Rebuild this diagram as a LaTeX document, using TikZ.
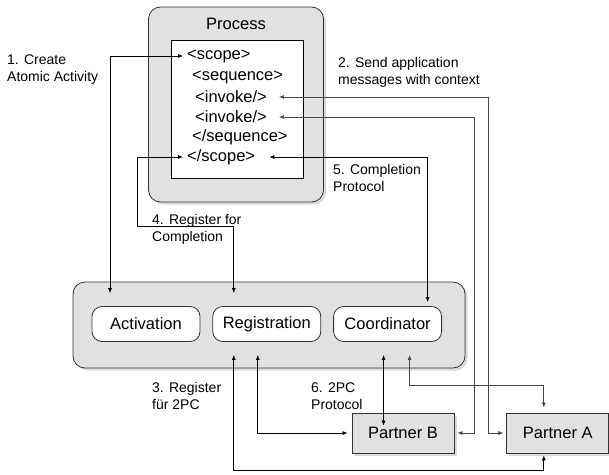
\documentclass[tikz,border=0pt]{standalone}
\usepackage{fontspec}
\setmainfont{Liberation Sans}
\usepackage{xcolor}
\usepackage{tikz}
\usetikzlibrary{arrows.meta,positioning,shadows}

\definecolor{boxgray}{HTML}{E1E1E1}
\definecolor{rimgray}{HTML}{333333}
\definecolor{wiregray}{HTML}{484848}
\newcommand\nodefont{\fontsize{16.5}{19.5}\selectfont}
\newcommand\lblfont{\fontsize{14}{17}\selectfont}

\begin{document}
\begin{tikzpicture}[x=1pt,y=-1pt,
  node distance=12pt and 12pt,
  shade/.style={drop shadow={shadow xshift=2.5pt,shadow yshift=-2.5pt,opacity=.3}},
  panel/.style={draw=rimgray,line width=.8pt,rounded corners=12pt,fill=boxgray,shade},
  svc/.style={draw=rimgray,line width=.8pt,rounded corners=10pt,fill=white,font=\nodefont,minimum width=108pt,minimum height=35pt},
  partner/.style={draw=rimgray,line width=.8pt,fill=boxgray,font=\nodefont,minimum width=102pt,minimum height=40pt,shade},
  codeline/.style={anchor=west,font=\nodefont,inner xsep=4pt,inner ysep=0pt},
  lbl/.style={anchor=west,align=left,font=\lblfont,inner sep=0pt},
  wire/.style={<->,line width=.7pt},
  >={Latex[length=5pt,width=4pt]}]
\useasboundingbox (0,0) rectangle (609,474);

% process
\node[panel,minimum width=175pt,minimum height=195pt] (process) at (236,104.5) {};
\node[font=\nodefont] (proclabel) at (236,24) {Process};
\node[draw,line width=.8pt,fill=white,minimum width=132pt,minimum height=138pt] (code) at (237,109) {};
\node[codeline] (scopeopen) at (183,56) {<scope>};
\node[codeline] (seqopen) at (188,77) {<sequence>};
\node[codeline] (invokeA) at (191,97) {<invoke/>};
\node[codeline] (invokeB) at (191,117) {<invoke/>};
\node[codeline] (seqclose) at (188,137) {</sequence>};
\node[codeline] (scopeclose) at (183,157) {</scope>};

% coordination service
\node[panel,minimum width=392pt,minimum height=86pt] (service) at (269,325) {};
\node[svc] (activation) at (146,324) {Activation};
\node[svc,right=of activation] (registration) {Registration};
\node[svc,right=of registration] (coordinator) {Coordinator};

% partners
\node[partner] (partnerB) at (403,433) {Partner B};
\node[partner,right=52pt of partnerB] (partnerA) {Partner A};

% labels
\node[lbl] (l1) at (7,70) {1. Create\\Atomic Activity};
\node[lbl] (l2) at (338,72) {2. Send application\\messages with context};
\node[lbl] (l3) at (152,396) {3. Register\\für 2PC};
\node[lbl] (l4) at (152,229) {4. Register for\\Completion};
\node[lbl] (l5) at (333,178) {5. Completion\\Protocol};
\node[lbl] (l6) at (311,396) {6. 2PC\\Protocol};

\coordinate (regbend) at (137,226);

% connectors
\draw[wire] (scopeopen.west) -| ([xshift=-36pt,yshift=13pt]activation.north);
\draw[wire] (scopeclose.west) -| (regbend) -| ([xshift=-33pt,yshift=13pt]registration.north);
\draw[wire] ([xshift=10pt]scopeclose.east) -| ([xshift=40pt,yshift=4pt]coordinator.north);
\draw[wire,wiregray] ([xshift=8pt]invokeA.east) -| ([xshift=-18pt]partnerA.west) -- ([xshift=-3pt]partnerA.west);
\draw[wire,wiregray] ([xshift=8pt]invokeB.east) -| ([xshift=20pt]partnerB.east) -- ([xshift=3pt]partnerB.east);
\draw[wire] ([xshift=-9pt,yshift=-13pt]registration.south) |- ([xshift=-4pt]partnerB.west);
\draw[wire] ([xshift=-33pt,yshift=-13pt]registration.south) |- ([xshift=-14pt,yshift=-17pt]partnerA.south) -- ([xshift=-14pt,yshift=-2pt]partnerA.south);
\draw[wire] ([xshift=-4pt,yshift=-13pt]coordinator.south) -- ([xshift=-4pt,yshift=-13pt]coordinator.south |- partnerB.north);
\draw[wire,wiregray] ([xshift=22pt,yshift=-13pt]coordinator.south) |- ([xshift=-14pt,yshift=27pt]partnerA.north) -- ([xshift=-14pt,yshift=5pt]partnerA.north);
\end{tikzpicture}
\end{document}
